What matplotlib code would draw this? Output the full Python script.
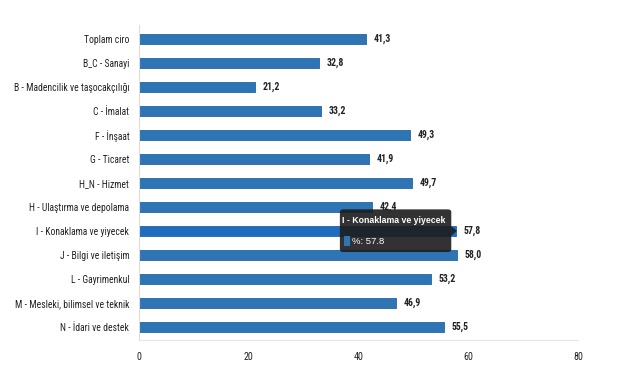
import numpy as np
import matplotlib.pyplot as plt
from matplotlib import font_manager
from matplotlib.patches import FancyBboxPatch, Polygon, Rectangle

installed = {f.name for f in font_manager.fontManager.ttflist}
narrow = next((n for n in ['Roboto Condensed', 'Liberation Sans Narrow', 'Liberation Sans']
               if n in installed), 'DejaVu Sans')
plt.rcParams['font.family'] = [narrow, 'DejaVu Sans']
tip_font = ['Liberation Sans', 'DejaVu Sans']

categories = [
    'Toplam ciro', 'B_C - Sanayi', 'B - Madencilik ve taşocakçılığı',
    'C - İmalat', 'F - İnşaat', 'G - Ticaret', 'H_N - Hizmet',
    'H - Ulaştırma ve depolama', 'I - Konaklama ve yiyecek',
    'J - Bilgi ve iletişim', 'L - Gayrimenkul',
    'M - Mesleki, bilimsel ve teknik', 'N - İdari ve destek',
]
values = [41.3, 32.8, 21.2, 33.2, 49.3, 41.9, 49.7, 42.4, 57.8, 58.0, 53.2, 46.9, 55.5]
value_labels = ['41,3', '32,8', '21,2', '33,2', '49,3', '41,9', '49,7',
                '42,4', '57,8', '58,0', '53,2', '46,9', '55,5']
xticks = [0, 20, 40, 60, 80]
hovered = 8

fig = plt.figure(figsize=(6.29, 3.73), dpi=100)
ax = fig.add_axes([0.221, 0.0885, 0.698, 0.845])

y = np.arange(len(categories))
colors = ['#2e75b6'] * len(categories)
colors[hovered] = '#1f6cc0'
ax.barh(y, values, height=0.42, color=colors, edgecolor='#27659e', linewidth=0.6)

for yi, v, lab in zip(y, values, value_labels):
    ax.text(v + 1.4, yi, lab, va='center', ha='left', fontsize=7,
            fontweight='bold', color='#222222')

ax.set_yticks(y)
ax.set_yticklabels(categories, fontsize=6.9, color='#222222')
ax.set_xticks(xticks)
ax.set_xticklabels([str(t) for t in xticks], fontsize=7.2, color='#222222')
ax.set_xlim(0, 80)
ax.set_ylim(12.55, -0.6)
ax.tick_params(length=0, pad=7)
ax.tick_params(axis='x', pad=9)
for s in ['top', 'right']:
    ax.spines[s].set_visible(False)
ax.spines['left'].set_color('#dcdcdc')
ax.spines['bottom'].set_color('#e6e6e6')
ax.spines['left'].set_linewidth(0.8)
ax.spines['bottom'].set_linewidth(0.8)

# tooltip over the hovered bar
box = FancyBboxPatch((36.6, hovered - 0.9), 20.3, 1.78,
                     boxstyle='round,pad=0,rounding_size=0.6',
                     facecolor='#1c1c1c', edgecolor='none', alpha=0.9,
                     clip_on=False, zorder=5, mutation_aspect=0.2)
ax.add_patch(box)
ax.add_patch(Polygon([[56.9, hovered - 0.2], [57.9, hovered], [56.9, hovered + 0.2]],
                     closed=True, facecolor='#1c1c1c', alpha=0.9,
                     edgecolor='none', zorder=5, clip_on=False))
ax.text(37.0, hovered - 0.45, categories[hovered], color='white', fontsize=6.3,
        fontweight='bold', va='center', ha='left', zorder=6, family=tip_font)
ax.add_patch(Rectangle((37.3, hovered + 0.22), 1.1, 0.42, facecolor='#2e75b6',
                       edgecolor='none', zorder=6, clip_on=False))
ax.text(38.8, hovered + 0.43, f'%: {values[hovered]:.1f}', color='white',
        fontsize=6.8, va='center', ha='left', zorder=6, family=tip_font)

fig.savefig('out.png', dpi=100, facecolor='white')
